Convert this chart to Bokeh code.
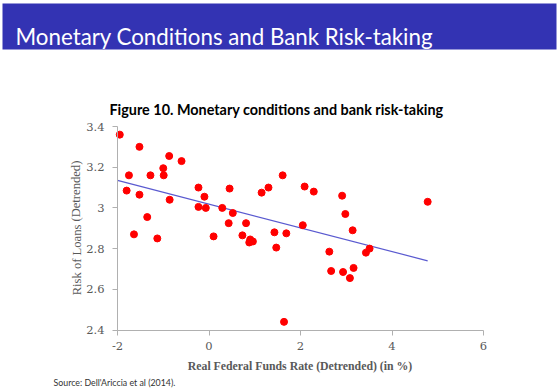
from bokeh.plotting import figure
from bokeh.models import Range1d, Label, FixedTicker, BoxAnnotation
from bokeh.embed import file_html
from bokeh.resources import INLINE

# ---- data ----
rate = [-1.95, -1.52, -1.75, -1.28, -1.00, -0.99, -0.87, -0.60, -1.80, -1.52,
        -0.86, -0.23, -0.10, -0.23, -0.07, -1.35, -1.64, -1.13, 0.10, 0.45,
        0.29, 0.52, 0.43, 0.81, 1.15, 1.30, 1.61, 2.09, 2.05, 0.73,
        0.90, 0.96, 0.88, 1.43, 1.69, 1.47, 1.64, 2.29, 2.91, 2.98,
        3.14, 2.63, 3.43, 3.51, 2.67, 2.93, 3.16, 3.08, 4.78]
risk = [3.36, 3.30, 3.16, 3.16, 3.195, 3.16, 3.255, 3.23, 3.085, 3.065,
        3.04, 3.10, 3.055, 3.005, 3.00, 2.955, 2.87, 2.85, 2.86, 3.095,
        3.00, 2.975, 2.925, 2.925, 3.075, 3.10, 3.16, 3.105, 2.915, 2.865,
        2.845, 2.835, 2.83, 2.88, 2.875, 2.805, 2.44, 3.08, 3.06, 2.97,
        2.89, 2.785, 2.78, 2.80, 2.69, 2.685, 2.705, 2.655, 3.03]
trend_x = [-2.0, 4.78]
trend_y = [3.135, 2.74]
x_ticks = [-2, 0, 2, 4, 6]
x_tick_labels = {-2: "-2", 0: "0", 2: "2", 4: "4", 6: "6"}
y_ticks = [2.4, 2.6, 2.8, 3.0, 3.2, 3.4]
y_tick_labels = {2.4: "2.4", 2.6: "2.6", 2.8: "2.8", 3: "3", 3.2: "3.2", 3.4: "3.4"}
x_bounds = (-2, 6)
y_bounds = (2.4, 3.4)

slide_title = "Monetary Conditions and Bank Risk-taking"
fig_title = "Figure 10. Monetary conditions and bank risk-taking"
x_label = "Real Federal Funds Rate (Detrended) (in %)"
y_label = "Risk of Loans (Detrended)"
source = "Source: Dell'Ariccia et al (2014)."

# ---- layout (pixels) ----
W, H = 558, 388
AX_LEFT, AX_RIGHT = 117, 483      # pixel x of x_bounds
AX_TOP, AX_BOTTOM = 126, 329.5    # pixel y of y_bounds
BAND_TOP, BAND_BOTTOM, BAND_LEFT, BAND_RIGHT = 3, 49, 2, 556

BAND = "#3333B3"
GREY = "#595959"
AXIS = "#B0B0B0"

sx = (AX_RIGHT - AX_LEFT) / (x_bounds[1] - x_bounds[0])
sy = (AX_BOTTOM - AX_TOP) / (y_bounds[1] - y_bounds[0])
x0 = x_bounds[0] - AX_LEFT / sx
x1 = x0 + W / sx
y1 = y_bounds[1] + AX_TOP / sy
y0 = y1 - H / sy

p = figure(width=W, height=H, output_backend="svg", toolbar_location=None,
           x_range=Range1d(x0, x1), y_range=Range1d(y0, y1), min_border=0)
p.grid.visible = False
p.outline_line_color = None
p.background_fill_color = "white"
p.border_fill_color = "white"

# header band of the slide
p.add_layout(BoxAnnotation(top=y1 - BAND_TOP / sy, bottom=y1 - BAND_BOTTOM / sy,
                           left=x0 + BAND_LEFT / sx, right=x0 + BAND_RIGHT / sx,
                           fill_color=BAND, fill_alpha=1.0,
                           line_color=None, level="underlay"))
p.add_layout(Label(x=15, y=H - 35.5, x_units="screen", y_units="screen",
                   text=slide_title, text_color="white",
                   text_font="Lato", text_font_size="22.3px",
                   text_baseline="alphabetic", text_align="left"))

p.line(trend_x, trend_y, line_color="#5A5AD0", line_width=1.2)
p.scatter(rate, risk, size=7, fill_color="#FF0000", line_color="#FF0000")

p.xaxis.fixed_location = y_bounds[0]
p.yaxis.fixed_location = x_bounds[0]
p.xaxis.bounds = x_bounds
p.yaxis.bounds = y_bounds
for ax in (p.xaxis[0], p.yaxis[0]):
    ax.axis_line_color = AXIS
    ax.major_tick_line_color = AXIS
    ax.minor_tick_line_color = None
    ax.major_tick_in = 0
    ax.major_tick_out = 5
    ax.major_label_text_font = "DejaVu Serif"
    ax.major_label_text_font_size = "11.5px"
    ax.major_label_text_color = GREY
p.xaxis.ticker = FixedTicker(ticks=x_ticks)
p.yaxis.ticker = FixedTicker(ticks=y_ticks)
p.xaxis.major_label_overrides = x_tick_labels
p.yaxis.major_label_overrides = y_tick_labels
p.xaxis.major_label_standoff = 7
p.yaxis.major_label_standoff = 8

p.add_layout(Label(x=276, y=H - 109, x_units="screen", y_units="screen",
                   text=fig_title, text_font="Lato", text_font_style="bold",
                   text_font_size="14.4px", text_color="black",
                   text_align="center", text_baseline="alphabetic"))
p.add_layout(Label(x=299.5, y=H - 365, x_units="screen", y_units="screen",
                   text=x_label, text_font="Liberation Serif", text_font_style="bold",
                   text_font_size="11.8px", text_color=GREY,
                   text_align="center", text_baseline="alphabetic"))
p.add_layout(Label(x=76, y=H - 227.5, x_units="screen", y_units="screen", angle=1.5708,
                   text=y_label, text_font="Liberation Serif",
                   text_font_size="12.6px", text_color=GREY,
                   text_align="center", text_baseline="alphabetic"))
p.add_layout(Label(x=53, y=H - 381.5, x_units="screen", y_units="screen",
                   text=source, text_font="Lato",
                   text_font_size="8.8px", text_color="#333333",
                   text_align="left", text_baseline="alphabetic"))

open("out.html", "w").write(file_html(p, INLINE))
